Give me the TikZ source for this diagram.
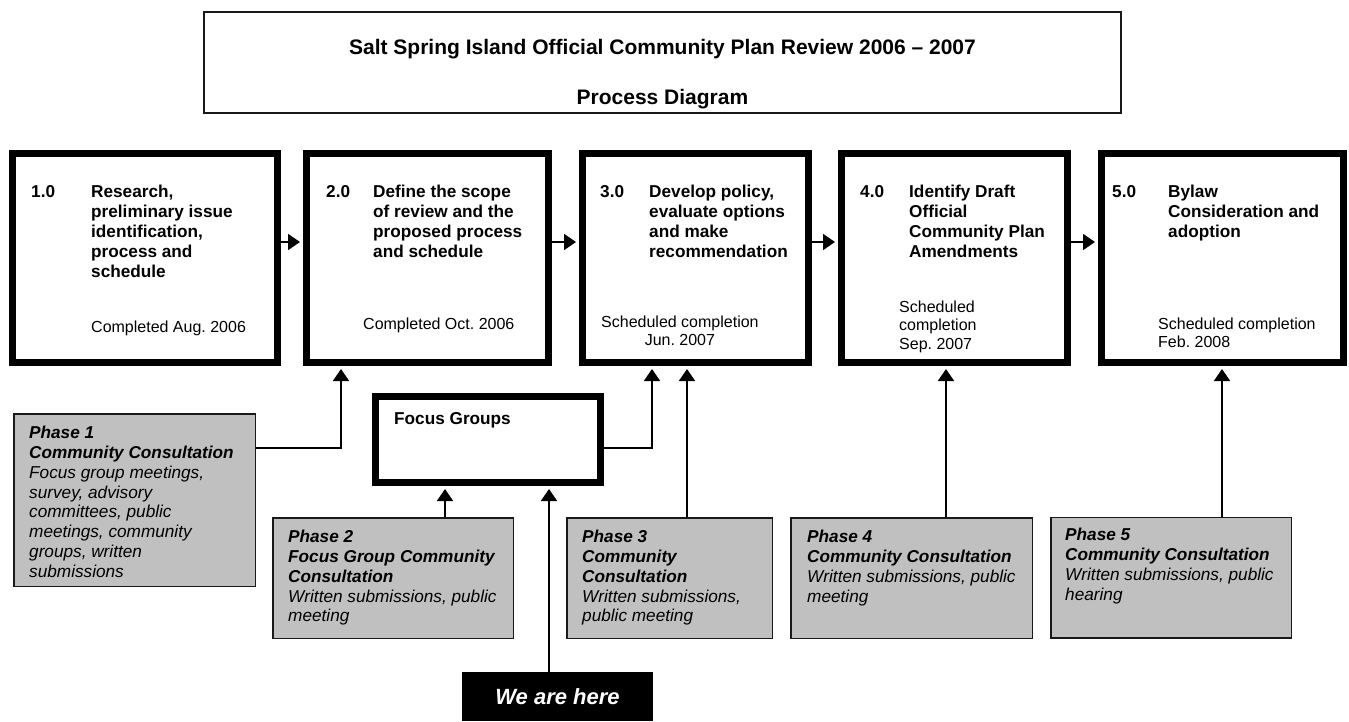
\documentclass[tikz,border=0pt]{standalone}
\usepackage{fontspec}
\setmainfont{Liberation Sans}
\usetikzlibrary{arrows.meta,calc}
\definecolor{phasegray}{RGB}{192,192,192}
\definecolor{edgedark}{RGB}{25,25,25}
\frenchspacing

\begin{document}
\begin{tikzpicture}[
    x=1pt, y=1pt,
    >={Triangle[length=12pt, width=16pt]},
    stepbox/.style={draw=black, line width=7pt, inner sep=0pt, minimum height=209pt},
    phasebox/.style={draw=edgedark, fill=phasegray, line width=1.5pt, inner sep=0pt},
    steptext/.style={anchor=north west, inner sep=0pt, align=left, font=\fontsize{17.2}{20}\selectfont\bfseries},
    datetext/.style={anchor=north west, inner sep=0pt, align=left, font=\fontsize{16}{18.5}\selectfont},
    phasetext/.style={anchor=north west, inner sep=0pt, align=left, font=\fontsize{17.2}{19.8}\selectfont\itshape},
    flow/.style={->, line width=1.8pt, shorten >=3pt}
]

% Page frame
\useasboundingbox (0,0) rectangle (1349,-721);

% Title Box
\node[draw=edgedark, line width=1.6pt, minimum width=917pt, minimum height=101pt, inner sep=0pt] (title) at (662.5,-62.5) {};
\node[align=center, inner sep=0pt, font=\fontsize{21}{50}\selectfont\bfseries] (titletext) at (662.5,-74) {Salt Spring Island Official Community Plan Review 2006 – 2007\\Process Diagram};

% Step Boxes
\node[stepbox, minimum width=265pt] (s1) at (145,-258) {};
\node[stepbox, minimum width=242pt] (s2) at (427.5,-258) {};
\node[stepbox, minimum width=226pt] (s3) at (695.5,-258) {};
\node[stepbox, minimum width=226pt] (s4) at (954.5,-258) {};
\node[stepbox, minimum width=242pt] (s5) at (1222.5,-258) {};

% Step Texts
\node[steptext] (n1) at (31,-185) {1.0};
\node[steptext] (t1) at (91,-185) {Research,\\preliminary issue\\identification,\\process and\\schedule};
\node[datetext] (d1) at (91,-320.5) {Completed Aug. 2006};

\node[steptext] (n2) at (326,-185) {2.0};
\node[steptext] (t2) at (373,-185) {Define the scope\\of review and the\\proposed process\\and schedule};
\node[datetext] (d2) at (363,-317.5) {Completed Oct. 2006};

\node[steptext] (n3) at (600,-185) {3.0};
\node[steptext] (t3) at (649,-185) {Develop policy,\\evaluate options\\and make\\recommendation};
\node[datetext, align=center] (d3) at (601,-315.5) {Scheduled completion\\Jun. 2007};

\node[steptext] (n4) at (860,-185) {4.0};
\node[steptext] (t4) at (909,-185) {Identify Draft\\Official\\Community Plan\\Amendments};
\node[datetext] (d4) at (899,-300.5) {Scheduled\\completion\\Sep. 2007};

\node[steptext] (n5) at (1112,-185) {5.0};
\node[steptext] (t5) at (1168,-185) {Bylaw\\Consideration and\\adoption};
\node[datetext] (d5) at (1158,-317.5) {Scheduled completion\\Feb. 2008};

% Arrows between steps
\draw[flow] ([yshift=16pt]s1.east) -- ([yshift=16pt]s2.west);
\draw[flow] ([yshift=16pt]s2.east) -- ([yshift=16pt]s3.west);
\draw[flow] ([yshift=16pt]s3.east) -- ([yshift=16pt]s4.west);
\draw[flow] ([yshift=16pt]s4.east) -- ([yshift=16pt]s5.west);

% Focus Groups
\node[stepbox, minimum width=225pt, minimum height=86pt] (focus) at (488,-439.5) {};
\node[steptext] (focustext) at (394,-412) {Focus Groups};

% Phase Boxes
\node[phasebox, minimum width=241.5pt, minimum height=172.5pt] (p1) at (134.5,-500) {};
\node[phasetext] (pt1) at (29,-426) {\textbf{Phase 1}\\\textbf{Community Consultation}\\Focus group meetings,\\survey, advisory\\committees, public\\meetings, community\\groups, written\\submissions};

\node[phasebox, minimum width=240.5pt, minimum height=120.5pt] (p2) at (393,-578) {};
\node[phasetext] (pt2) at (288,-530) {\textbf{Phase 2}\\\textbf{Focus Group Community}\\\textbf{Consultation}\\Written submissions, public\\meeting};

\node[phasebox, minimum width=205.5pt, minimum height=120.5pt] (p3) at (669.5,-578) {};
\node[phasetext] (pt3) at (582,-530) {\textbf{Phase 3}\\\textbf{Community}\\\textbf{Consultation}\\Written submissions,\\public meeting};

\node[phasebox, minimum width=241.5pt, minimum height=120.5pt] (p4) at (911.5,-578) {};
\node[phasetext] (pt4) at (807,-530) {\textbf{Phase 4}\\\textbf{Community Consultation}\\Written submissions, public\\meeting};

\node[phasebox, minimum width=240.5pt, minimum height=120.5pt] (p5) at (1171,-577.5) {};
\node[phasetext] (pt5) at (1065,-528) {\textbf{Phase 5}\\\textbf{Community Consultation}\\Written submissions, public\\hearing};

% We are here
\node[fill=black, text=white, minimum width=191pt, minimum height=49pt, inner sep=0pt, font=\fontsize{22}{26}\selectfont\bfseries\itshape] (here) at (557.5,-696.5) {We are here};

% Connector end points
\coordinate (p2top) at ([xshift=52pt]p2.north);
\coordinate (heretop) at ([xshift=-8.5pt]here.north);
\coordinate (p3top) at ([xshift=17.5pt]p3.north);
\coordinate (p4top) at ([xshift=34.5pt]p4.north);
\coordinate (p5top) at ([xshift=51pt]p5.north);

% Consultation into steps
\draw[flow] ([yshift=52pt]p1.east) -| ([xshift=-86.5pt]s2.south);
\draw[flow] ([yshift=-8.5pt]focus.east) -| ([xshift=-43.5pt]s3.south);
\draw[flow] (p2top) -- (p2top |- focus.south);
\draw[flow] (heretop) -- (heretop |- focus.south);
\draw[flow] (p3top) -- (p3top |- s3.south);
\draw[flow] (p4top) -- (p4top |- s4.south);
\draw[flow] (p5top) -- (p5top |- s5.south);

\end{tikzpicture}
\end{document}
